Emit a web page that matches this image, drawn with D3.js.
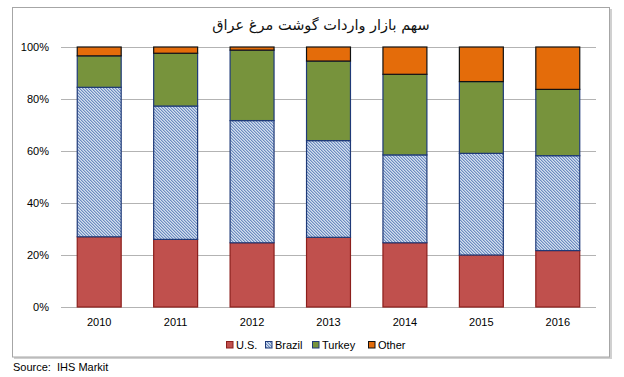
<!DOCTYPE html>
<html><head><meta charset="utf-8">
<script src="https://cdn.jsdelivr.net/npm/d3@7"></script>
<style>
html,body{margin:0;padding:0;background:#fff;}
svg{display:block;}
</style></head>
<body>
<svg id="chart" width="624" height="377"></svg>
<script>
const years = ["2010","2011","2012","2013","2014","2015","2016"];
const seriesNames = ["U.S.","Brazil","Turkey","Other"];
const usShare     = [27.0, 26.0, 24.7, 26.8, 24.7, 20.0, 21.7];
const brazilShare = [57.5, 51.3, 47.0, 37.2, 33.8, 39.1, 36.5];
const turkeyShare = [12.1, 20.3, 27.1, 30.6, 31.0, 27.6, 25.5];
const otherShare  = [3.4, 2.4, 1.2, 5.4, 10.5, 13.3, 16.3];
const yTicks = [0, 20, 40, 60, 80, 100];
const titleText = "سهم بازار واردات گوشت مرغ عراق";
const sourceText = "Source:  IHS Markit";

const svg = d3.select("#chart");
const font = "'Liberation Sans', Arial, sans-serif";

// pattern for Brazil
const defs = svg.append("defs");
const pat = defs.append("pattern").attr("id","brz").attr("patternUnits","userSpaceOnUse")
  .attr("width",3).attr("height",3);
pat.append("rect").attr("width",3).attr("height",3).attr("fill","#d3deee");
[[0,0],[1,1],[2,2]].forEach(([x,y])=>pat.append("rect").attr("x",x).attr("y",y).attr("width",1).attr("height",1).attr("fill","#6c8bc1"));
[[1,0],[2,1],[0,2]].forEach(([x,y])=>pat.append("rect").attr("x",x).attr("y",y).attr("width",1).attr("height",1).attr("fill","#a9bddb"));

// outer frame
svg.append("rect").attr("x",14).attr("y",9).attr("width",598).attr("height",350).attr("fill","#d0d0d0");
svg.append("rect").attr("x",12.5).attr("y",7.5).attr("width",597).attr("height",349.5)
  .attr("fill","#fff").attr("stroke","#a6a6a6").attr("stroke-width",1);

const plot = {left:61, right:596, top:47, bottom:307};
const x = d3.scaleBand().domain(years).range([plot.left, plot.right]).paddingInner(0.425).paddingOuter(0.2125);
const y = d3.scaleLinear().domain([0,100]).range([plot.bottom, plot.top]);

// gridlines
svg.append("g").selectAll("line").data(yTicks).join("line")
  .attr("x1",plot.left).attr("x2",plot.right)
  .attr("y1",d=>Math.round(y(d))+0.5).attr("y2",d=>Math.round(y(d))+0.5)
  .attr("stroke","#b3b3b3").attr("stroke-width",1);

// y axis labels
const yAxis = d3.axisLeft(y).tickValues(yTicks).tickFormat(d=>d+"%").tickSize(0).tickPadding(0);
const gy = svg.append("g").attr("transform",`translate(49,0)`).call(yAxis);
gy.select(".domain").remove();
gy.selectAll("text").attr("font-family",font).attr("font-size",11).attr("fill","#000");

// x axis labels
const xAxis = d3.axisBottom(x).tickSize(0).tickPadding(0);
const gx = svg.append("g").attr("transform",`translate(0,${plot.bottom+11})`).call(xAxis);
gx.select(".domain").remove();
gx.selectAll("text").attr("font-family",font).attr("font-size",11).attr("fill","#000");

// stacked data
const rows = years.map((yr,i)=>({year:yr, "U.S.":usShare[i], "Brazil":brazilShare[i], "Turkey":turkeyShare[i], "Other":otherShare[i]}));
const stack = d3.stack().keys(seriesNames)(rows);
const fills = {"U.S.":"#c0504d","Brazil":"url(#brz)","Turkey":"#77933c","Other":"#e46c0a"};
const strokes = {"U.S.":"#8c1f1c","Brazil":"#1f3a78","Turkey":"#1f3a78","Other":"#111"};

stack.forEach(s=>{
  svg.append("g").selectAll("rect").data(s).join("rect")
    .attr("x",d=>x(d.data.year)).attr("width",x.bandwidth())
    .attr("y",d=>y(d[1])).attr("height",d=>y(d[0])-y(d[1]))
    .attr("fill",fills[s.key]).attr("stroke",strokes[s.key]).attr("stroke-width",1.2);
});

// title
svg.append("text").attr("x",321).attr("y",30).attr("text-anchor","middle")
  .attr("font-family","'DejaVu Sans', 'Noto Sans', sans-serif").attr("font-size",14.5).attr("fill","#111")
  .attr("direction","rtl").text(titleText);

// legend
const legendX = [226, 265, 312, 368];
const lg = svg.append("g");
seriesNames.forEach((n,i)=>{
  lg.append("rect").attr("x",legendX[i]+0.5).attr("y",341.5).attr("width",6.5).attr("height",6.5)
    .attr("fill",fills[n]).attr("stroke",strokes[n]).attr("stroke-width",1);
  lg.append("text").attr("x",legendX[i]+10).attr("y",349).attr("font-family",font).attr("font-size",11)
    .attr("fill","#000").text(n);
});

// source
svg.append("text").attr("x",13).attr("y",371).attr("font-family",font).attr("font-size",11)
  .attr("fill","#000").style("white-space","pre").text(sourceText);
</script>
</body></html>
